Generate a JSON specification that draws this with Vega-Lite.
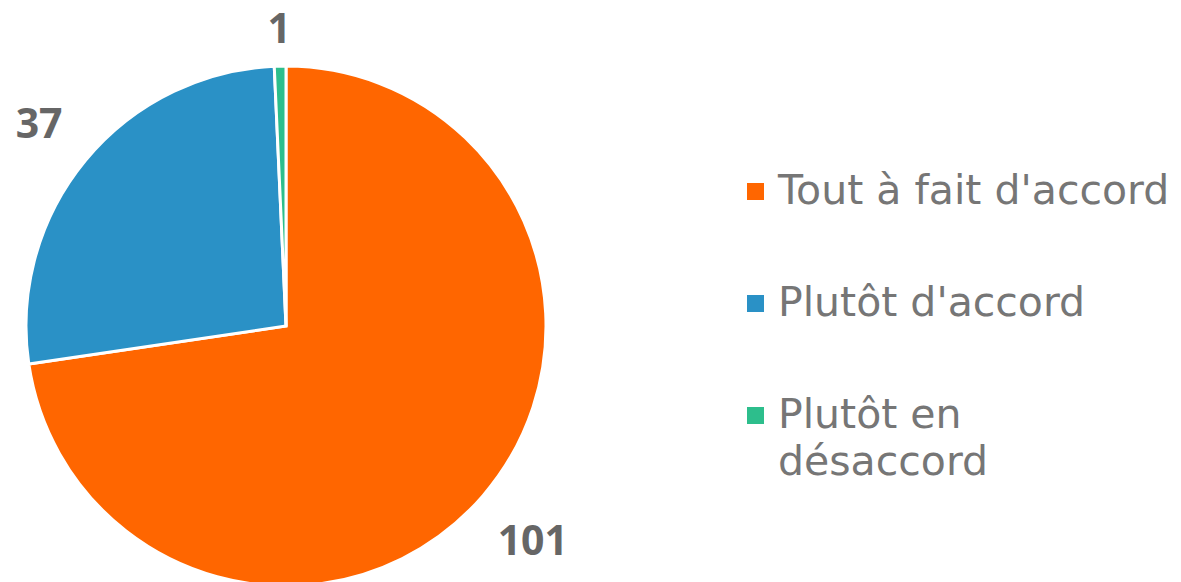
{
  "$schema": "https://vega.github.io/schema/vega-lite/v6.json",
  "autosize": "none",
  "width": 572,
  "height": 512,
  "padding": {"left": 0, "top": 70, "right": 609, "bottom": 0},
  "background": "white",
  "config": {"view": {"stroke": null}, "font": "Open Sans", "style": {"guide-label": {"lineHeight": 47}}},
  "data": {"values": [
    {"reponse": "Tout à fait d'accord", "n": 101},
    {"reponse": "Plutôt d'accord", "n": 37},
    {"reponse": "Plutôt en désaccord", "n": 1}
  ]},
  "encoding": {
    "theta": {"field": "n", "type": "quantitative", "stack": true},
    "order": {"field": "n", "sort": "descending"},
    "color": {
      "field": "reponse", "type": "nominal",
      "scale": {"domain": ["Tout à fait d'accord", "Plutôt d'accord", "Plutôt en désaccord"], "range": ["#FF6600", "#2A91C6", "#2DBE8C"]},
      "legend": {
        "title": null, "orient": "none", "legendX": 735, "legendY": 101,
        "symbolType": "square", "symbolSize": 289, "symbolStrokeWidth": 0,
        "labelFont": "DejaVu Sans", "labelFontSize": 41, "labelColor": "#767676",
        "labelOffset": 2, "rowPadding": 70, "labelLimit": 600,
        "labelExpr": "datum.label == 'Plutôt en désaccord' ? ['Plutôt en', 'désaccord'] : datum.label"
      }
    }
  },
  "layer": [
    {"mark": {"type": "arc", "outerRadius": 260, "stroke": "white", "strokeWidth": 3}},
    {"mark": {"type": "text", "fontSize": 41, "fontWeight": "bold", "font": "Open Sans", "dy": 4},
     "encoding": {
       "text": {"field": "n", "type": "quantitative"},
       "radius": {"field": "n", "type": "quantitative", "scale": {"type": "linear", "zero": false, "domain": [1, 37, 101], "range": [299, 320, 326]}},
       "color": {"value": "#666666"}
     }}
  ]
}
